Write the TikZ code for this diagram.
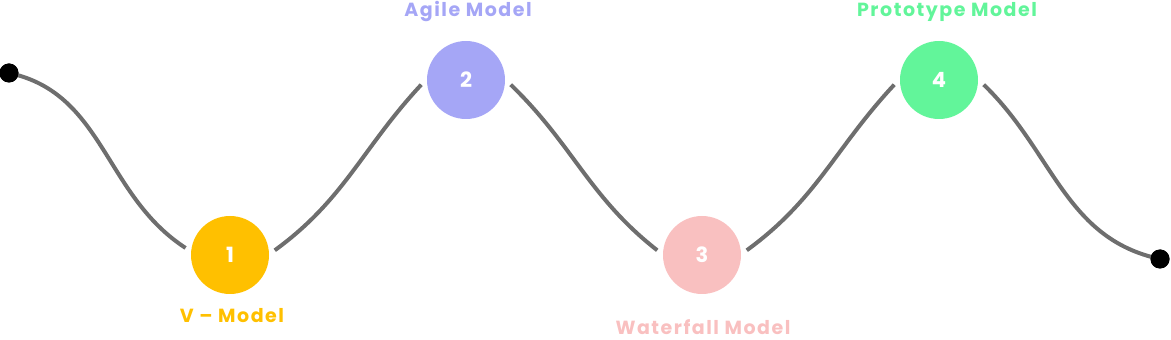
\documentclass[tikz,border=0pt]{standalone}
\usepackage{fontspec}
\setmainfont{Poppins}
\definecolor{cone}{HTML}{FFC000}
\definecolor{ctwo}{HTML}{A5A6F6}
\definecolor{cthree}{HTML}{F9C0C0}
\definecolor{cfour}{HTML}{62F59A}
\definecolor{wavegray}{HTML}{6E6E6E}
\begin{document}
\begin{tikzpicture}[x=1pt,y=1pt,
  bubble/.style={circle,fill=#1,minimum size=78pt,inner sep=0pt,outer sep=6pt,
    text=white,font=\bfseries\fontsize{21}{21}\selectfont},
  enddot/.style={circle,fill=black,minimum size=19pt,inner sep=0pt},
  wave/.style={draw=wavegray,line width=4pt},
  lbl/.style={text=#1,font=\bfseries\fontsize{19}{19}\selectfont\addfontfeature{LetterSpace=8},inner sep=0pt}]
\useasboundingbox (0,0) rectangle (1171,340);
\node[enddot] (s) at (9,267) {};
\node[enddot] (e) at (1160,81) {};
\node[bubble=cone] (c1) at (230,85) {1};
\node[bubble=ctwo] (c2) at (466,260) {2};
\node[bubble=cthree] (c3) at (702,85) {3};
\node[bubble=cfour] (c4) at (939,260) {4};
\draw[wave] (s.center) to[out=-12,in=147] (c1.171);
\draw[wave] (c1.6) to[out=36,in=227] (c2.186);
\draw[wave] (c2.-6) to[out=-44,in=142] (c3.174);
\draw[wave] (c3.6) to[out=36,in=227] (c4.186);
\draw[wave] (c4.-6) to[out=-44,in=168] (e.center);
\node[enddot] at (s.center) {};
\node[enddot] at (e.center) {};
\node[lbl=cone] (l1) at (232,24) {V – Model};
\node[lbl=ctwo] (l2) at (468,328) {Agile Model};
\node[lbl=cthree] (l3) at (703,13) {Waterfall Model};
\node[lbl=cfour] (l4) at (947,328) {Prototype Model};
\end{tikzpicture}
\end{document}
